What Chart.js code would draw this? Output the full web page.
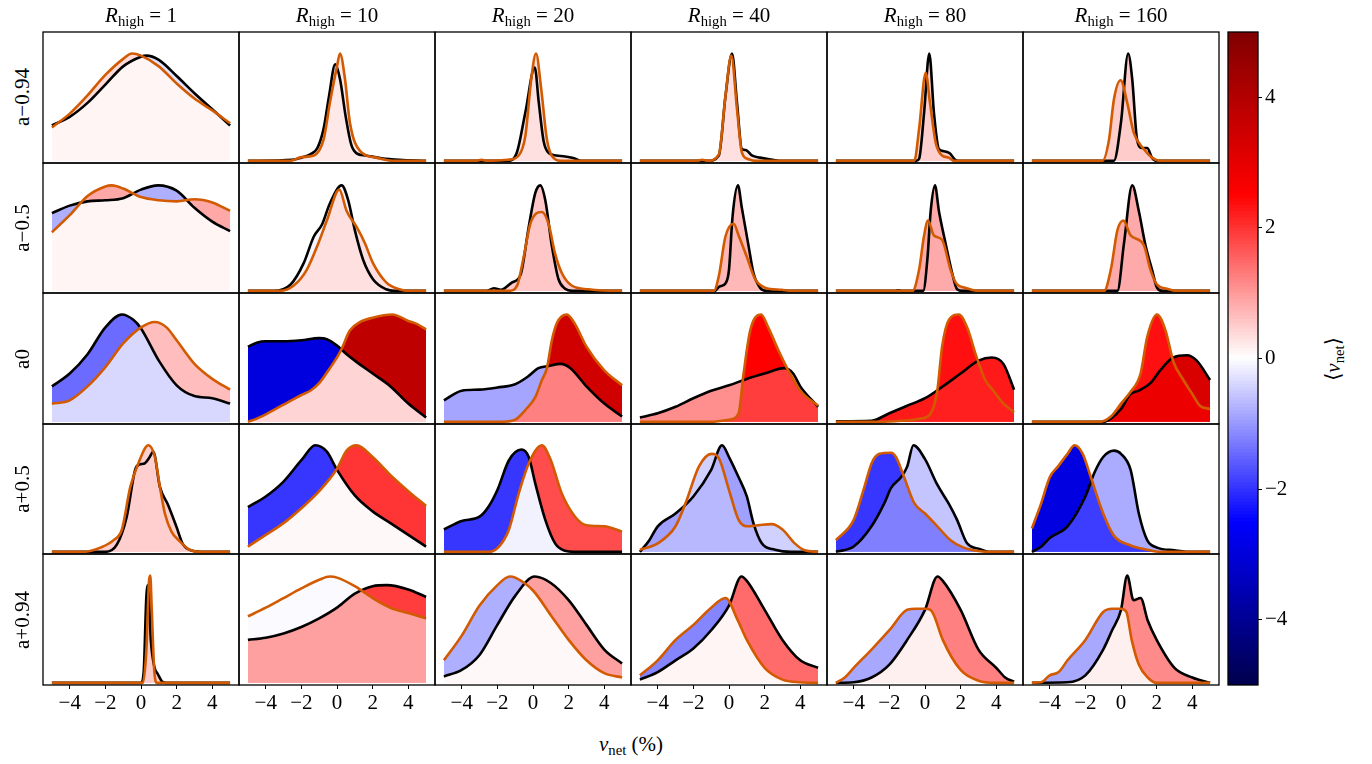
<!DOCTYPE html>
<html>
<head>
<meta charset="utf-8">
<script src="https://cdn.jsdelivr.net/npm/chart.js@4.4.0/dist/chart.umd.min.js"></script>
<style>
  body { margin: 0; background: #fff; }
  #fig { position: relative; width: 1372px; height: 764px; overflow: hidden;
         font-family: 'Liberation Serif', 'DejaVu Serif', serif; color: #000; }
  #fig canvas { position: absolute; }
  .txt { position: absolute; white-space: nowrap; font-size: 21px; line-height: 24px; }
  .it { font-style: italic; }
  sub { font-size: 70%; vertical-align: -0.28em; line-height: 0; }
</style>
</head>
<body>
<div id="fig"></div>
<script>
const spins = ['a\u22120.94', 'a\u22120.5', 'a0', 'a+0.5', 'a+0.94'];
const rHigh = [1, 10, 20, 40, 80, 160];
const xTicks = [-4, -2, 0, 2, 4];
const cbarTicks = [-4, -2, 0, 2, 4];

// KDE of v_net per R_high column, [v_net, density] knots, density scaled to the panel peak
const blackM094 = [
  [[-5,.33],[-4,.41],[-3,.54],[-2,.71],[-1,.88],[0,.97],[0.3,.98],[1,.94],[2,.79],[3,.63],[4,.48],[5,.33]],
  [[-5,0],[-2.5,.01],[-2,.03],[-1.5,.06],[-1.1,.12],[-0.75,.3],[-0.45,.6],[-0.1,.9],[0.17,.76],[0.5,.4],[0.8,.15],[1.1,.07],[1.6,.05],[2.5,.025],[3.5,.01],[5,0]],
  [[-5,0],[-1.4,0],[-0.9,.08],[-0.43,.45],[0.1,.87],[0.32,.55],[0.6,.18],[0.9,.07],[1.3,.05],[1.8,.04],[2.3,.025],[2.7,0],[5,0]],
  [[-5,0],[-1.2,0],[-0.57,.05],[-0.2,.6],[0.17,1],[0.45,.54],[0.72,.11],[0.95,.1],[1.28,.05],[1.74,.03],[2.6,.005],[3,0],[5,0]],
  [[-5,0],[-0.5,0],[-0.33,.02],[-0.05,.45],[0.24,1],[0.5,.45],[0.78,.11],[1.06,.09],[1.39,.07],[1.7,.01],[2,0],[5,0]],
  [[-5,0],[-0.4,0],[0,.36],[0.4,1],[0.63,.76],[0.9,.2],[1.19,.12],[1.47,.12],[1.74,.03],[2,0],[5,0]]
];
const orangeM094 = [
  [[-5,.31],[-4,.44],[-3,.61],[-2,.8],[-1,.95],[-0.5,1],[0,.98],[1,.88],[2,.72],[3,.58],[4,.47],[5,.35]],
  [[-5,0],[-2.6,0],[-2,.035],[-1.3,.05],[-0.75,.2],[-0.4,.54],[0,.88],[0.17,1],[0.45,.76],[0.72,.36],[1.3,.09],[2.2,.03],[3.1,0],[5,0]],
  [[-5,0],[-3.2,0],[-2.9,.01],[-2.6,0],[-1.4,.01],[-0.8,.05],[-0.43,.23],[-0.1,.76],[0.17,1],[0.46,.67],[0.78,.2],[1.24,.015],[1.6,0],[5,0]],
  [[-5,0],[-1.8,0],[-1.5,.01],[-1.2,0],[-0.57,.06],[-0.2,.6],[0.13,.98],[0.45,.48],[0.72,.08],[1.1,.015],[1.5,0],[5,0]],
  [[-5,0],[-0.6,0],[-0.33,.3],[0.04,.82],[0.28,.54],[0.6,.17],[0.96,.05],[1.34,.03],[1.6,0],[5,0]],
  [[-5,0],[-1.04,0],[-0.67,.2],[-0.4,.57],[-0.02,.75],[0.35,.54],[0.72,.26],[1.28,.11],[1.74,.03],[2.2,0],[5,0]]
];
const blackM05 = [
  [[-5,.73],[-4,.8],[-3,.84],[-2,.85],[-1,.87],[0,.95],[0.96,.99],[2,.94],[3,.78],[4,.65],[5,.56]],
  [[-5,0],[-3.55,0],[-2.6,.06],[-1.87,.26],[-1.3,.51],[-0.85,.62],[-0.4,.82],[0.26,.99],[0.63,.85],[1,.57],[1.47,.29],[2.02,.11],[2.76,.015],[3.2,0],[5,0]],
  [[-5,0],[-2.6,0],[-2.2,.025],[-1.8,.01],[-1.17,.08],[-0.7,.15],[-0.24,.6],[0.13,.92],[0.41,.99],[0.69,.85],[1.06,.42],[1.43,.11],[1.8,.02],[2.2,0],[5,0]],
  [[-5,0],[-0.8,0],[-0.54,.04],[-0.2,.07],[0,.2],[0.2,.7],[0.5,.99],[0.72,.78],[1.1,.42],[1.37,.17],[1.74,.03],[2.1,0],[5,0]],
  [[-5,0],[-1.7,0],[-1.5,.005],[-1.3,0],[-0.1,0],[0.13,.29],[0.32,.75],[0.56,.99],[0.78,.75],[1.15,.45],[1.52,.17],[1.8,.015],[2.1,0],[5,0]],
  [[-5,0],[-0.2,0],[0.17,.45],[0.63,.99],[1,.75],[1.37,.43],[1.74,.2],[2.02,.03],[2.3,0],[5,0]]
];
const orangeM05 = [
  [[-5,.55],[-4,.71],[-3,.89],[-2,.98],[-1.63,.99],[-1,.96],[0,.88],[1,.85],[2,.84],[3,.86],[4,.83],[5,.75]],
  [[-5,0],[-3.2,0],[-2.43,.05],[-1.69,.2],[-1.04,.45],[-0.57,.66],[0.13,.95],[0.54,.75],[1.1,.6],[1.56,.45],[2.02,.26],[2.76,.08],[3.5,.015],[4,0],[5,0]],
  [[-5,0],[-1.35,0],[-0.89,.05],[-0.52,.32],[-0.15,.63],[0.5,.74],[0.87,.63],[1.24,.35],[1.61,.17],[2.17,.05],[3.1,.015],[4.8,0],[5,0]],
  [[-5,0],[-0.85,0],[-0.57,.14],[-0.2,.51],[0.26,.63],[0.54,.52],[1,.32],[1.47,.11],[2.02,.03],[2.95,.01],[3.5,0],[5,0]],
  [[-5,0],[-0.7,0],[-0.33,.2],[-0.06,.51],[0.17,.66],[0.5,.52],[0.96,.48],[1.43,.2],[1.8,.06],[2.26,.03],[2.73,.005],[3,0],[5,0]],
  [[-5,0],[-0.95,0],[-0.57,.2],[-0.2,.57],[0.13,.66],[0.54,.52],[1.28,.43],[1.65,.2],[2.02,.06],[2.58,.02],[3.1,0],[5,0]]
];
const blackA0 = [
  [[-5,.33],[-4,.45],[-3,.63],[-2,.88],[-1.07,1],[-0.43,.95],[0,.87],[1,.57],[2,.34],[3,.24],[4,.22],[5,.17]],
  [[-5,.7],[-4.46,.74],[-4,.75],[-3,.75],[-2,.76],[-1,.78],[-0.57,.77],[0,.71],[0.54,.63],[1,.57],[2,.45],[3,.33],[4,.17],[5,.04]],
  [[-5,.2],[-4,.29],[-3,.3],[-2,.32],[-1,.35],[-0.3,.42],[0.3,.5],[0.87,.52],[1.55,.54],[2.1,.5],[3,.33],[4,.17],[5,.05]],
  [[-5,.04],[-4,.08],[-3,.14],[-2,.22],[-1,.29],[0,.34],[1,.4],[2,.45],[3.1,.5],[3.6,.45],[4,.33],[5,.14]],
  [[-5,.005],[-3,.01],[-2,.08],[-1,.15],[0,.22],[1,.33],[2,.45],[3,.57],[3.75,.6],[4.4,.54],[5,.3]],
  [[-5,0],[-1,0],[-0.57,.03],[0,.12],[0.54,.26],[1,.29],[1.65,.36],[2.2,.48],[2.94,.6],[3.7,.62],[4.25,.57],[5,.39]]
];
const orangeA0 = [
  [[-5,.17],[-4,.2],[-3,.33],[-2,.51],[-1,.73],[0,.88],[0.78,.93],[1.43,.88],[2,.76],[3,.54],[4,.4],[5,.3]],
  [[-5,0],[-4.5,.03],[-4,.07],[-3,.16],[-2,.25],[-1.5,.29],[-1,.36],[-0.4,.5],[0,.6],[0.26,.68],[0.72,.85],[1.3,.93],[2,.97],[3.1,1],[4,.94],[4.5,.91],[5,.86]],
  [[-5,0],[-1.9,0],[-1,.02],[-0.43,.11],[0.13,.23],[0.5,.39],[0.78,.5],[1.06,.76],[1.34,.92],[1.9,1],[2.36,.91],[3,.7],[4,.48],[5,.34]],
  [[-5,0],[-1,0],[0,.02],[0.54,.08],[0.82,.45],[1.19,.85],[1.8,1],[2.2,.88],[2.76,.67],[3.32,.48],[4,.29],[5,.15]],
  [[-5,0],[-2.5,0],[-1.35,.01],[-0.24,.03],[0.32,.08],[0.69,.29],[0.96,.7],[1.34,.95],[1.9,1],[2.36,.88],[2.9,.6],[3.38,.39],[3.84,.29],[4.4,.17],[5,.09]],
  [[-5,0],[-1.2,0],[-0.57,.05],[0,.17],[0.54,.28],[1.1,.45],[1.47,.79],[2.02,1],[2.5,.85],[2.94,.56],[3.5,.39],[4,.26],[4.43,.15],[5,.12]]
];
const blackP05 = [
  [[-5,0],[-2,0],[-1.35,.07],[-0.8,.33],[-0.33,.77],[-0.1,.82],[0.2,.83],[0.45,.88],[0.69,.94],[1.06,.61],[1.52,.44],[1.98,.24],[2.36,.07],[2.9,.01],[3.5,0],[5,0]],
  [[-5,.42],[-4,.52],[-3,.66],[-2,.86],[-1.22,1],[-0.57,.94],[0,.77],[1,.53],[2,.38],[3,.27],[4,.16],[5,.05]],
  [[-5,.21],[-4,.29],[-3,.33],[-2.47,.43],[-2,.58],[-1.35,.86],[-0.65,.96],[-0.24,.89],[0.13,.64],[0.69,.3],[1.24,.08],[1.8,.01],[2.3,0],[5,0]],
  [[-5,0],[-4.47,.11],[-4,.24],[-3,.36],[-2,.52],[-1,.77],[-0.39,1],[0,.89],[0.54,.7],[1,.52],[1.37,.27],[1.84,.08],[2.58,.02],[3.5,0],[5,0]],
  [[-5,0],[-4,.05],[-3,.24],[-2.3,.45],[-1.9,.6],[-1.35,.7],[-1,.8],[-0.65,1],[0,.87],[0.69,.63],[1.34,.45],[1.8,.3],[2.36,.08],[3,.03],[3.65,0],[5,0]],
  [[-5,0],[-4.47,.05],[-4,.13],[-3,.24],[-2,.52],[-1.5,.74],[-1,.89],[-0.39,.95],[0,.92],[0.54,.77],[1,.36],[1.47,.11],[2.02,.04],[3,.015],[4,0],[5,0]]
];
const orangeP05 = [
  [[-5,0],[-3.2,0],[-2.28,.04],[-1.54,.11],[-1.07,.21],[-0.6,.61],[-0.15,.83],[0.41,1],[0.78,.89],[1.06,.61],[1.34,.36],[1.71,.19],[2.17,.1],[2.73,.02],[3.3,0],[5,0]],
  [[-5,.05],[-4,.16],[-3,.27],[-2,.41],[-1,.57],[0,.78],[0.54,.95],[1.1,1],[2,.89],[3,.72],[4,.57],[5,.43]],
  [[-5,0],[-2.5,0],[-1.91,.05],[-1.35,.21],[-0.8,.55],[-0.24,.83],[0.5,1],[1,.86],[1.61,.55],[2.36,.33],[3,.25],[4,.24],[5,.19]],
  [[-5,.02],[-4,.08],[-3,.24],[-2.43,.46],[-1.69,.8],[-0.98,.92],[-0.57,.88],[0,.58],[0.54,.3],[1,.24],[1.65,.25],[2.39,.26],[3,.21],[3.69,.08],[4.25,.015],[5,0]],
  [[-5,.11],[-4,.3],[-3.4,.61],[-3,.83],[-2.56,.92],[-1.91,.93],[-1.63,.89],[-1.17,.7],[-0.61,.46],[0,.36],[0.69,.24],[1.43,.11],[2.17,.04],[2.9,.01],[3.5,0],[5,0]],
  [[-5,.22],[-4.47,.46],[-4,.7],[-3.54,.8],[-3,.92],[-2.61,1],[-2.15,.92],[-1.69,.7],[-1,.36],[-0.39,.15],[0.54,.06],[1.47,.02],[2.2,0],[5,0]]
];
const blackP094 = [
  [[-5,0],[0,0],[0.15,.1],[0.3,.8],[0.4,.91],[0.55,.4],[0.75,.15],[0.95,.08],[1.2,.01],[1.4,0],[5,0]],
  [[-5,.4],[-4,.42],[-3,.46],[-2,.52],[-1,.6],[0,.7],[1,.83],[2,.9],[2.8,.91],[4,.87],[5,.8]],
  [[-5,.06],[-4,.12],[-3,.26],[-2,.54],[-1,.81],[0.1,.99],[1,.93],[2,.77],[3,.54],[4,.31],[5,.18]],
  [[-5,.03],[-4,.1],[-3,.21],[-2,.32],[-1,.49],[0,.72],[0.7,.99],[1,.95],[2,.68],[3,.4],[4,.21],[5,.14]],
  [[-5,0],[-4,.005],[-3,.05],[-2,.17],[-1,.4],[0,.68],[0.7,.99],[1,.95],[2,.68],[3,.31],[4,.14],[4.5,.05],[5,.01]],
  [[-5,0],[-3,.005],[-2,.07],[-1,.31],[-0.5,.49],[0,.68],[0.35,1],[0.7,.77],[1.1,.79],[1.5,.58],[2,.4],[3,.14],[4,.05],[5,0]]
];
const orangeP094 = [
  [[-5,0],[0.1,0],[0.3,.3],[0.45,.95],[0.52,1],[0.6,.7],[0.75,.1],[0.9,0],[5,0]],
  [[-5,.62],[-4,.7],[-3,.79],[-2,.88],[-1,.96],[-0.4,.99],[0,.98],[1,.9],[2,.79],[3,.7],[4,.65],[5,.6]],
  [[-5,.21],[-4,.44],[-3,.72],[-2,.91],[-1.3,.99],[-1,.98],[0,.86],[1,.63],[2,.4],[3,.21],[4,.09],[5,.05]],
  [[-5,.07],[-4,.21],[-3,.4],[-2,.54],[-1,.7],[-0.2,.79],[0.5,.58],[1,.4],[2,.14],[3,.03],[4,.005],[5,0]],
  [[-5,0],[-4.5,.05],[-4,.14],[-3,.31],[-2,.49],[-1,.68],[-0.5,.69],[0,.69],[0.3,.68],[0.5,.63],[1,.4],[2,.12],[3,.02],[4,0],[5,0]],
  [[-5,0],[-4.5,.005],[-4,.07],[-3.5,.1],[-3,.21],[-2,.4],[-1,.66],[-0.5,.69],[0,.69],[0.3,.66],[0.6,.4],[1,.17],[1.5,.05],[2,0],[5,0]]
];

// mean v_net of the shaded regions: shared area, black-above area, orange-above area
const baseMean = [
  [0.1, 0.23, 0.3, 0.3, 0.47, 0.5],
  [0.1, 0.3, 0.55, 0.7, 0.83, 0.83],
  [-0.38, 0.42, 1.25, 1.9, 2.2, 2.85],
  [0.47, 0.07, -0.13, -0.7, -1.25, -1.9],
  [0.5, 0.93, 0.07, 0.1, 0.15, 0.15]
];
const blackMean = [
  [-0.3, 0.23, 0.3, 0.3, 0.47, 0.5],
  [-0.78, -0.1, 0.55, 0.7, 0.83, 0.83],
  [-1.45, -2.96, -0.88, 1.1, 2.25, 3.25],
  [0.47, -1.97, -1.97, -0.93, -0.58, -0.82],
  [0.5, 1.9, 0.93, 1.45, 1.25, 1.15]
];
const orangeMean = [
  [0.35, 0.23, 0.3, 0.3, 0.47, 0.5],
  [0.85, 0.3, 0.55, 0.7, 0.83, 0.83],
  [0.65, 3.75, 3.4, 2.5, 2.35, 2.35],
  [0.47, 1.98, 1.75, -0.45, -1.97, -2.93],
  [0.5, -0.05, -0.78, -1.2, -0.85, -0.85]
];

const blackRows = [blackM094, blackM05, blackA0, blackP05, blackP094];
const orangeRows = [orangeM094, orangeM05, orangeA0, orangeP05, orangeP094];

const vMin = -5, vMax = 5;
const ORANGE = '#d25a00';
const FONT = "'Liberation Serif', 'DejaVu Serif', serif";

// matplotlib 'seismic'
function seismic(v) {
  const t = Math.min(1, Math.max(0, (v - vMin) / (vMax - vMin)));
  let r, g, b;
  if (t < 0.25) { r = 0; g = 0; b = 0.3 + 0.7 * t / 0.25; }
  else if (t < 0.5) { const s = (t - 0.25) / 0.25; r = s; g = s; b = 1; }
  else if (t < 0.75) { const s = (t - 0.5) / 0.25; r = 1; g = 1 - s; b = 1 - s; }
  else { const s = (t - 0.75) / 0.25; r = 1 - 0.5 * s; g = 0; b = 0; }
  return `rgb(${Math.round(r * 255)},${Math.round(g * 255)},${Math.round(b * 255)})`;
}

const minusFmt = v => (v < 0 ? '\u2212' : '') + Math.abs(v);

const frame = {
  id: 'frame',
  afterDatasetsDraw(chart) {
    const { ctx, chartArea: a } = chart;
    ctx.save();
    ctx.strokeStyle = '#000';
    ctx.lineWidth = 1.3;
    ctx.strokeRect(a.left, a.top, a.right - a.left, a.bottom - a.top);
    ctx.restore();
  }
};

const fig = document.getElementById('fig');
const gridLeft = 43, gridTop = 32, cellW = 196, cellH = 130.6;
const pad = 3, axisH = 40;

function addText(html, x, y, extra) {
  const d = document.createElement('div');
  d.className = 'txt';
  d.innerHTML = html;
  d.style.left = x + 'px';
  d.style.top = y + 'px';
  d.style.transform = extra || 'translate(-50%, -50%)';
  fig.appendChild(d);
}

function makeCanvas(left, top, w, h) {
  const c = document.createElement('canvas');
  c.width = w; c.height = h;
  c.style.left = left + 'px'; c.style.top = top + 'px';
  c.style.width = w + 'px'; c.style.height = h + 'px';
  fig.appendChild(c);
  return c;
}

function drawPanel(r, c) {
  const top = Math.round(gridTop + r * cellH);
  const h = Math.round(gridTop + (r + 1) * cellH) - top;
  const left = gridLeft + c * cellW;
  const last = r === spins.length - 1;
  const canvas = makeCanvas(left - pad, top - pad, cellW + 2 * pad, h + 2 * pad + (last ? axisH : 0));

  const black = blackRows[r][c];
  const orange = orangeRows[r][c];
  const base = seismic(baseMean[r][c]);
  const common = { pointRadius: 0, cubicInterpolationMode: 'monotone' };

  new Chart(canvas, {
    type: 'line',
    data: {
      datasets: [
        { ...common, data: orange, borderColor: ORANGE, borderWidth: 2.6,
          fill: { target: 1, above: seismic(orangeMean[r][c]), below: seismic(blackMean[r][c]) } },
        { ...common, data: black, borderColor: '#000', borderWidth: 2.6, fill: false },
        { ...common, data: black, borderColor: 'rgba(0,0,0,0)', borderWidth: 0, fill: 'origin', backgroundColor: base },
        { ...common, data: orange, borderColor: 'rgba(0,0,0,0)', borderWidth: 0, fill: 'origin', backgroundColor: base }
      ]
    },
    options: {
      responsive: false,
      maintainAspectRatio: false,
      animation: false,
      events: [],
      layout: { padding: pad },
      scales: {
        x: {
          type: 'linear', min: -5.5, max: 5.5, display: last,
          afterBuildTicks: axis => { axis.ticks = xTicks.map(v => ({ value: v })); },
          afterFit: axis => {
            if (!last) return;
            axis.height = axisH;
            axis.paddingLeft = 0;
            axis.paddingRight = 0;
          },
          grid: { drawOnChartArea: false, drawTicks: true, tickLength: 4, color: '#000', lineWidth: 1 },
          border: { display: false },
          ticks: { color: '#000', padding: 2, maxRotation: 0, font: { family: FONT, size: 21 }, callback: minusFmt }
        },
        y: { type: 'linear', min: -0.02, max: 1.2, display: false }
      },
      plugins: {
        legend: { display: false },
        tooltip: { enabled: false },
        filler: { drawTime: 'beforeDatasetsDraw' }
      }
    },
    plugins: [frame]
  });
}

for (let r = 0; r < spins.length; r++) {
  for (let c = 0; c < rHigh.length; c++) drawPanel(r, c);
}

// column titles, row labels, axis label
rHigh.forEach((R, c) => {
  addText(`<span class="it">R</span><sub>high</sub> = ${R}`, gridLeft + c * cellW + cellW / 2, 15);
});
spins.forEach((s, r) => {
  addText(s, 22, gridTop + (r + 0.5) * cellH, 'translate(-50%, -50%) rotate(-90deg)');
});
addText('<span class="it">v</span><sub>net</sub> (%)', gridLeft + 3 * cellW, 744);

// colour bar
const cbLeft = 1228, cbTop = 32, cbW = 30, cbH = 653;
const levels = [];
for (let i = 0; i < 200; i++) levels.push(vMax - (i + 0.5) * (vMax - vMin) / 200);
const cbCanvas = makeCanvas(cbLeft - pad, cbTop - pad, cbW + 2 * pad + 50, cbH + 2 * pad);
new Chart(cbCanvas, {
  type: 'bar',
  data: {
    labels: levels,
    datasets: [{
      data: levels.map(() => 1),
      backgroundColor: levels.map(seismic),
      borderWidth: 0,
      barPercentage: 1.3,
      categoryPercentage: 1
    }]
  },
  options: {
    indexAxis: 'y',
    responsive: false,
    maintainAspectRatio: false,
    animation: false,
    events: [],
    layout: { padding: pad },
    scales: {
      x: { min: 0, max: 1, display: false },
      y: { display: false },
      yTicks: {
        type: 'linear', position: 'right', min: vMin, max: vMax, offset: false,
        afterBuildTicks: axis => { axis.ticks = cbarTicks.map(v => ({ value: v })); },
        afterFit: axis => { axis.width = 50; axis.paddingTop = 0; axis.paddingBottom = 0; },
        grid: { drawOnChartArea: false, offset: false, tickLength: 4, color: '#000', lineWidth: 1 },
        border: { display: false },
        ticks: { color: '#000', padding: 3, font: { family: FONT, size: 21 }, callback: minusFmt }
      }
    },
    plugins: { legend: { display: false }, tooltip: { enabled: false } }
  },
  plugins: [frame]
});
addText('\u27e8<span class="it">v</span><sub>net</sub>\u27e9', 1333, cbTop + cbH / 2, 'translate(-50%, -50%) rotate(-90deg)');
</script>
</body>
</html>
